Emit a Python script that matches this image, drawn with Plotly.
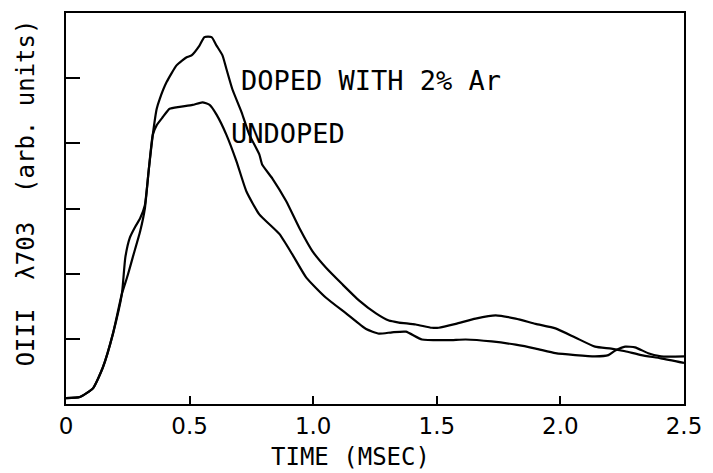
import plotly.graph_objects as go

# Time (ms) and intensity (arb. units)
doped_t = [0.0, 0.056, 0.109, 0.149, 0.19, 0.226, 0.240, 0.258, 0.28, 0.30, 0.319, 0.335, 0.351,
           0.367, 0.379, 0.407, 0.448, 0.488, 0.508, 0.54, 0.56, 0.589, 0.609, 0.633, 0.649,
           0.673, 0.71, 0.742, 0.782, 0.794, 0.835, 0.891, 0.944, 0.996, 1.052, 1.117, 1.185,
           1.254, 1.306, 1.347, 1.415, 1.48, 1.508, 1.577, 1.657, 1.738, 1.819, 1.9, 1.98,
           2.06, 2.14, 2.206, 2.262, 2.327, 2.407, 2.5]
doped_i = [0.09, 0.107, 0.24, 0.56, 1.08, 1.69, 2.25, 2.55, 2.72, 2.85, 3.05, 3.60, 4.13,
           4.53, 4.68, 4.94, 5.20, 5.32, 5.35, 5.50, 5.63, 5.63, 5.50, 5.35, 5.14,
           4.83, 4.48, 4.13, 3.83, 3.67, 3.46, 3.11, 2.70, 2.35, 2.09, 1.84, 1.59,
           1.39, 1.28, 1.25, 1.22, 1.17, 1.17, 1.23, 1.31, 1.36, 1.31, 1.23, 1.16,
           1.02, 0.88, 0.85, 0.81, 0.75, 0.70, 0.63]

undoped_t = [0.0, 0.056, 0.109, 0.149, 0.19, 0.226, 0.25, 0.27, 0.30, 0.319, 0.335, 0.351,
             0.367, 0.391, 0.419, 0.46, 0.512, 0.552, 0.581, 0.609, 0.649, 0.69, 0.73,
             0.782, 0.863, 0.915, 0.972, 1.052, 1.133, 1.214, 1.266, 1.319, 1.375, 1.44,
             1.548, 1.617, 1.722, 1.819, 1.9, 1.98, 2.06, 2.14, 2.194, 2.222, 2.262, 2.302,
             2.355, 2.407, 2.5]
undoped_i = [0.09, 0.107, 0.24, 0.56, 1.08, 1.69, 1.98, 2.25, 2.65, 3.00, 3.60, 4.13,
             4.28, 4.40, 4.53, 4.56, 4.59, 4.63, 4.59, 4.44, 4.13, 3.72, 3.26,
             2.91, 2.61, 2.30, 1.94, 1.63, 1.39, 1.15, 1.08, 1.10, 1.11, 0.99,
             0.98, 0.99, 0.96, 0.91, 0.85, 0.78, 0.75, 0.73, 0.75, 0.82, 0.88, 0.87,
             0.78, 0.73, 0.73]

x_ticks = [0, 0.5, 1.0, 1.5, 2.0, 2.5]
x_tick_labels = ["0", "0.5", "1.0", "1.5", "2.0", "2.5"]
y_ticks = [1, 2, 3, 4, 5]

FONT = "DejaVu Sans"
MONO = "DejaVu Sans Mono"

fig = go.Figure()
for t, i, name in [(doped_t, doped_i, "DOPED WITH 2% Ar"), (undoped_t, undoped_i, "UNDOPED")]:
    fig.add_trace(go.Scatter(x=t, y=i, mode="lines", name=name,
                             line=dict(color="black", width=2.2, shape="spline", smoothing=0.5),
                             showlegend=False))

fig.update_layout(
    width=713, height=473,
    margin=dict(l=66, r=28, t=11, b=69),
    paper_bgcolor="white", plot_bgcolor="white",
    font=dict(family=FONT, color="black"),
    xaxis=dict(range=[0, 2.5], tickvals=x_ticks, ticktext=x_tick_labels,
               ticks="inside", ticklen=8, tickwidth=1.5, tickcolor="black",
               showline=True, linecolor="black", linewidth=2, mirror=True,
               showgrid=False, zeroline=False, tickfont=dict(size=23, family=FONT)),
    yaxis=dict(range=[0, 6], tickvals=y_ticks, showticklabels=False,
               ticks="inside", ticklen=14, tickwidth=1.5, tickcolor="black",
               showline=True, linecolor="black", linewidth=2, mirror=True,
               showgrid=False, zeroline=False),
    annotations=[
        dict(x=0.70, y=4.97, xref="x", yref="y", text="DOPED WITH 2% Ar", showarrow=False,
             xanchor="left", yanchor="middle", font=dict(size=27, family=MONO)),
        dict(x=0.66, y=4.15, xref="x", yref="y", text="UNDOPED", showarrow=False,
             xanchor="left", yanchor="middle", font=dict(size=27, family=MONO)),
        dict(x=0.460, y=-0.135, xref="paper", yref="paper", text="TIME (MSEC)",
             showarrow=False, xanchor="center", yanchor="middle", font=dict(size=24, family=MONO)),
        dict(x=-0.0646, y=0.539, xref="paper", yref="paper",
             text="OIII  λ703  (arb. units)", textangle=-90, showarrow=False,
             xanchor="center", yanchor="middle", font=dict(size=24, family=MONO)),
    ],
)

fig.write_html("out.html")
